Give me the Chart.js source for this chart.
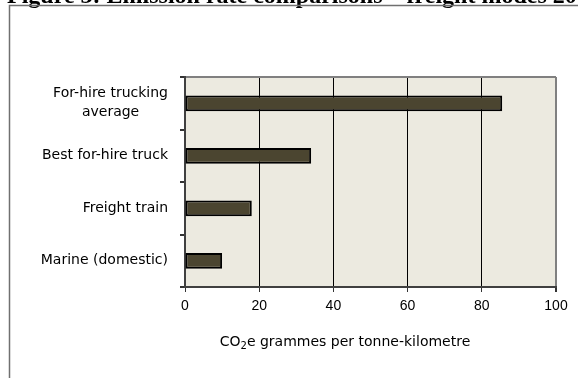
<!DOCTYPE html>
<html>
<head>
<meta charset="utf-8">
<script src="https://cdn.jsdelivr.net/npm/chart.js@4/dist/chart.umd.min.js"></script>
<style>
  html, body { margin: 0; padding: 0; background: #fff; overflow: hidden; }
  #wrap { position: relative; width: 578px; height: 378px; }
  canvas { display: block; }
</style>
</head>
<body>
<div id="wrap"><canvas id="c" width="578" height="378"></canvas></div>
<script>
// Emission rates by freight mode (g CO2e per tonne-km)
const figureTitle = 'Figure 3: Emission rate comparisons – freight modes 2005';
const modes = [['For-hire trucking', 'average'], ['Best for-hire truck'], ['Freight train'], ['Marine (domestic)']];
const emissions = [85.5, 34, 18, 10];
const xTicks = [0, 20, 40, 60, 80, 100];
const xTitleParts = ['CO', '2', 'e grammes per tonne-kilometre'];

const SANS = '"DejaVu Sans", Tahoma, sans-serif';
const LABEL_FONT = '14px ' + SANS;

// Page frame + cropped figure caption along the top edge
const framePlugin = {
  id: 'frame',
  beforeDraw(chart) {
    const ctx = chart.ctx;
    ctx.save();
    ctx.fillStyle = '#000';
    ctx.font = 'bold 24px "Liberation Serif", "Times New Roman", serif';
    ctx.textBaseline = 'alphabetic';
    ctx.textAlign = 'left';
    ctx.fillText(figureTitle, 7, 3);
    ctx.strokeStyle = '#707070';
    ctx.lineWidth = 1.5;
    ctx.beginPath();
    ctx.moveTo(9.5, 400);
    ctx.lineTo(9.5, 5.5);
    ctx.lineTo(600, 5.5);
    ctx.stroke();
    // plot-area background
    const a = chart.chartArea;
    ctx.fillStyle = '#ECEAE0';
    ctx.fillRect(a.left, a.top, a.right - a.left, a.bottom - a.top);
    ctx.restore();
  }
};

// Category labels (right-aligned block, extra lines centred under the first)
// and the x-axis title with a subscript
const labelPlugin = {
  id: 'labels',
  afterDraw(chart) {
    const ctx = chart.ctx;
    const y = chart.scales.y;
    const xRight = 168;
    const lineH = 19;
    ctx.save();
    ctx.font = LABEL_FONT;
    ctx.fillStyle = '#000';
    ctx.textBaseline = 'middle';
    modes.forEach((lines, i) => {
      const cy = y.getPixelForValue(i);
      const widest = Math.max(...lines.map(l => ctx.measureText(l).width));
      const cx = xRight - widest / 2;
      ctx.textAlign = 'center';
      const y0 = cy - (lines.length - 1) * lineH / 2;
      lines.forEach((l, k) => ctx.fillText(l, cx, y0 + k * lineH));
    });

    // axis title: CO₂e … (subscript drawn smaller and lower)
    const mainFont = '14px ' + SANS;
    const subFont = '10px ' + SANS;
    ctx.textAlign = 'left';
    ctx.textBaseline = 'alphabetic';
    ctx.font = mainFont;
    const w0 = ctx.measureText(xTitleParts[0]).width;
    const w2 = ctx.measureText(xTitleParts[2]).width;
    ctx.font = subFont;
    const w1 = ctx.measureText(xTitleParts[1]).width;
    const total = w0 + w1 + w2;
    const centre = 345;
    const base = 346;
    let x = centre - total / 2;
    ctx.font = mainFont;
    ctx.fillText(xTitleParts[0], x, base); x += w0;
    ctx.font = subFont;
    ctx.fillText(xTitleParts[1], x, base + 3); x += w1;
    ctx.font = mainFont;
    ctx.fillText(xTitleParts[2], x, base);
    ctx.restore();
  }
};

new Chart(document.getElementById('c'), {
  type: 'bar',
  data: {
    labels: modes.map(m => m.join(' ')),
    datasets: [{
      data: emissions,
      backgroundColor: '#4B4530',
      borderColor: '#000',
      borderWidth: 2,
      borderSkipped: false,
      categoryPercentage: 1,
      barPercentage: 0.3
    }]
  },
  options: {
    indexAxis: 'y',
    responsive: false,
    animation: false,
    devicePixelRatio: 1,
    layout: { padding: { top: 77, right: 22, left: 0, bottom: 0 } },
    plugins: { legend: { display: false }, tooltip: { enabled: false } },
    scales: {
      x: {
        min: 0, max: 100,
        afterBuildTicks(s) { s.ticks = xTicks.map(v => ({ value: v })); },
        afterFit(s) { s.height = 91; },
        grid: {
          color: ctx => ctx.tick && ctx.tick.value === 100 ? '#808080' : '#000',
          lineWidth: ctx => ctx.tick && ctx.tick.value === 100 ? 2 : 1,
          tickColor: '#333',
          tickLength: 5
        },
        border: { color: '#404040', width: 2 },
        ticks: {
          padding: 6,
          color: '#000',
          font: { family: '"Liberation Sans", Tahoma, sans-serif', size: 14 }
        },
        title: { display: false }
      },
      y: {
        afterFit(s) { s.width = 185; },
        grid: {
          offset: true,
          color: ctx => ctx.index === 0 ? '#808080' : 'rgba(0,0,0,0)',
          lineWidth: 2,
          tickColor: '#333',
          tickLength: 5
        },
        border: { color: '#404040', width: 2 },
        ticks: { display: false }
      }
    }
  },
  plugins: [framePlugin, labelPlugin]
});
</script>
</body>
</html>
